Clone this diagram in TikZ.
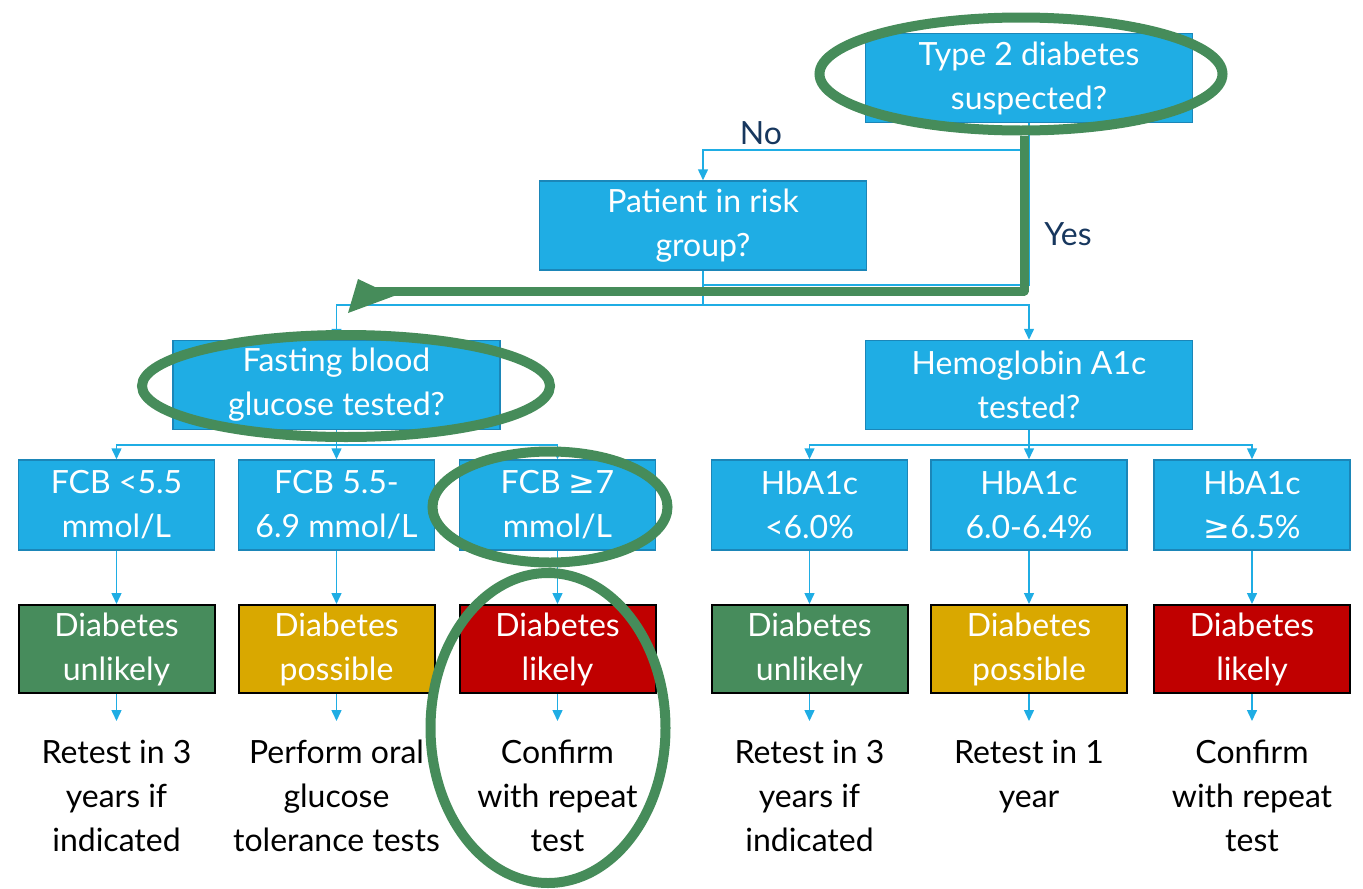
\documentclass[tikz,border=0pt]{standalone}
\usepackage{fontspec}
\setmainfont{Lato}
\newfontfamily\symf{DejaVu Sans}
\usetikzlibrary{shapes.geometric,arrows.meta,calc}
\definecolor{boxblue}{HTML}{1FADE4}
\definecolor{boxedge}{HTML}{1B86B8}
\definecolor{linkblue}{HTML}{1FADE4}
\definecolor{hgreen}{HTML}{468C5A}
\definecolor{okgreen}{HTML}{478C5C}
\definecolor{goldc}{HTML}{D9A800}
\definecolor{dred}{HTML}{C00000}
\definecolor{navy}{HTML}{17375E}
\begin{document}
\begin{tikzpicture}[x=1pt,y=-1pt,
 every node/.style={font=\fontsize{32}{44}\selectfont, align=center, inner sep=0pt},
 qbox/.style={fill=boxblue, draw=boxedge, line width=1.5pt, text=white, minimum width=327pt, minimum height=89pt},
 sbox/.style={fill=boxblue, draw=boxedge, line width=1.5pt, text=white, minimum width=196pt, minimum height=90pt},
 rbox/.style={draw=black, line width=2pt, text=white, minimum width=196pt, minimum height=88pt},
 outtxt/.style={text=black, anchor=north},
 conn/.style={draw=linkblue, line width=1.5pt},
 arr/.style={conn, -{Triangle[width=10pt,length=11pt]}},
 hl/.style={draw=hgreen, line width=10pt, ellipse},
]
\useasboundingbox (0,0) rectangle (1363,889);
% question boxes
\node[qbox] (t) at (1029,78) {Type 2 diabetes\\suspected?};
\node[qbox] (p) at (703,225.5) {Patient in risk\\group?};
\node[qbox] (f) at (336.5,385) {Fasting blood\\glucose tested?};
\node[qbox] (h) at (1029,385) {Hemoglobin A1c\\tested?};
% result boxes
\node[sbox] (a1) at (116.5,505) {FCB <5.5\\mmol/L};
\node[sbox] (a2) at (336.5,505) {FCB 5.5-\\6.9 mmol/L};
\node[sbox] (a3) at (557.5,505) {FCB {\symf ≥}7\\mmol/L};
\node[sbox] (a4) at (809.5,505) {HbA1c\\<6.0\%};
\node[sbox] (a5) at (1029,505) {HbA1c\\6.0-6.4\%};
\node[sbox] (a6) at (1252,505) {HbA1c\\{\symf ≥}6.5\%};
% verdict boxes
\node[rbox, fill=okgreen] (b1) at (116.5,649) {Diabetes\\unlikely};
\node[rbox, fill=goldc] (b2) at (336.5,649) {Diabetes\\possible};
\node[rbox, fill=dred] (b3) at (557.5,649) {Diabetes\\likely};
\node[rbox, fill=okgreen] (b4) at (809.5,649) {Diabetes\\unlikely};
\node[rbox, fill=goldc] (b5) at (1029,649) {Diabetes\\possible};
\node[rbox, fill=dred] (b6) at (1252,649) {Diabetes\\likely};
% outcome texts
\node[outtxt] (c1) at (116.5,740) {Retest in 3\\years if\\indicated};
\node[outtxt] (c2) at (336.5,740) {Perform oral\\glucose\\tolerance tests};
\node[outtxt] (c3) at (557.5,740) {Confirm\\with repeat\\test};
\node[outtxt] (c4) at (809.5,740) {Retest in 3\\years if\\indicated};
\node[outtxt] (c5) at (1029,740) {Retest in 1\\year};
\node[outtxt] (c6) at (1252,740) {Confirm\\with repeat\\test};
% labels
\node[text=navy] (no) at (761,133) {No};
\node[text=navy] (yes) at (1068,234) {Yes};
% connectors
\coordinate (nj) at (1029,150);
\coordinate (yj) at (1029,285);
\coordinate (pj) at (703,285);
\coordinate (jn) at (703,305);
\draw[conn] (t.south) -- (yj) -- (pj);
\draw[arr] (nj) -| (p.north);
\draw[conn] (p.south) -- (jn);
\draw[arr] (jn) -| (f.north);
\draw[arr] (jn) -| (h.north);
\coordinate (fj) at (336.5,445);
\coordinate (hj) at (1029,445);
\draw[conn] (f.south) -- (fj);
\draw[conn] (h.south) -- (hj);
\foreach \i in {1,2,3} {\draw[arr] (fj) -| (a\i.north);}
\foreach \i in {4,5,6} {\draw[arr] (hj) -| (a\i.north);}
\foreach \i in {1,...,6} {
  \draw[arr] (a\i.south) -- (b\i.north);
  \draw[arr] (b\i.south) -- ([yshift=19pt]c\i.north);
}
% highlights
\node[hl, minimum width=403pt, minimum height=113pt] (e1) at (1021,74) {};
\node[hl, minimum width=408pt, minimum height=102pt] (e2) at (346,386) {};
\node[hl, minimum width=235pt, minimum height=111pt] (e3) at (550,507) {};
\node[hl, minimum width=235pt, minimum height=310pt] (e4) at (548,728) {};
\coordinate (g1) at (1024,291);
\coordinate (g2) at (372,291);
\draw[draw=hgreen, line width=9pt, line join=round] (e1.south -| g1) -- (g1) -- (g2);
\fill[hgreen] (358,279) -- (348,313) -- (394,296) -- cycle;
\end{tikzpicture}
\end{document}
